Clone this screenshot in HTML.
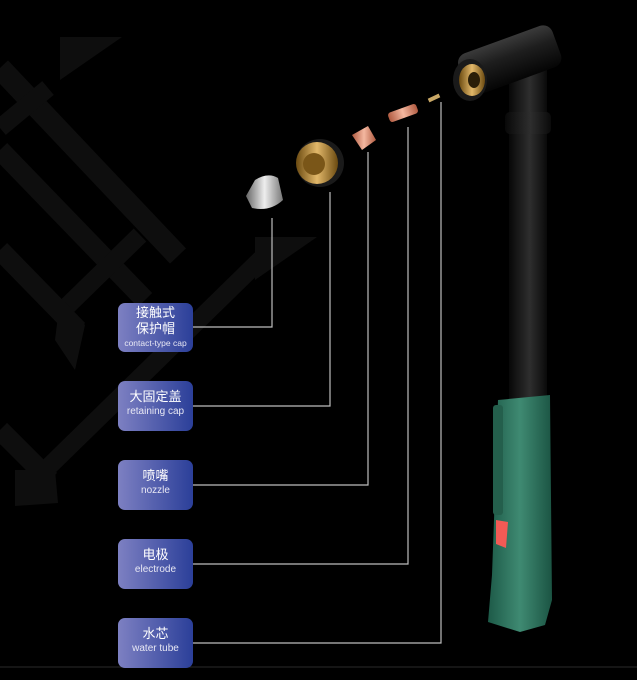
<!DOCTYPE html>
<html><head><meta charset="utf-8"><style>
body{margin:0;background:#000;width:637px;height:680px;overflow:hidden;position:relative;font-family:"Liberation Sans","Noto Sans CJK SC",sans-serif}
svg{position:absolute;left:0;top:0}
.b{position:absolute;left:118px;width:75px;border-radius:7px;background:linear-gradient(90deg,#7d80c2,#2b3f99);color:#fff;text-align:center;box-sizing:border-box}
.b .c{font-size:13px;line-height:16px}
.b .e{font-size:10px;line-height:13px;color:#e8e8f4}
</style></head><body>
<svg width="637" height="680">
<g stroke="#0e0e0e" fill="none">
<line x1="0" y1="68" x2="178" y2="256" stroke-width="22"/>
<line x1="48" y1="88" x2="0" y2="128" stroke-width="18"/>
<line x1="0" y1="150" x2="145" y2="300" stroke-width="20"/>
<line x1="140" y1="235" x2="55" y2="318" stroke-width="18"/>
<line x1="0" y1="250" x2="78" y2="330" stroke-width="20"/>
<line x1="262" y1="258" x2="30" y2="485" stroke-width="18"/>
<line x1="0" y1="430" x2="50" y2="480" stroke-width="20"/>
</g>
<g fill="#0e0e0e">
<polygon points="60,37 122,37 60,80"/>
<polygon points="255,237 317,237 255,280"/>
<polygon points="15,470 55,470 58,503 15,506"/>
<polygon points="60,300 85,325 75,370 55,340"/>
</g>
<g stroke="#bdbdbd" stroke-width="1.2" fill="none">
<polyline points="193,327 272,327 272,218"/>
<polyline points="193,406 330,406 330,192"/>
<polyline points="193,485 368,485 368,152"/>
<polyline points="193,564 408,564 408,127"/>
<polyline points="193,643 441,643 441,102"/>
</g>
<line x1="0" y1="667" x2="637" y2="667" stroke="#2a2a2a" stroke-width="1"/>
<defs>
<linearGradient id="blk" x1="0" x2="1"><stop offset="0" stop-color="#080808"/><stop offset=".55" stop-color="#2e2e2e"/><stop offset="1" stop-color="#0a0a0a"/></linearGradient>
<linearGradient id="hd" x1="0" x2="0" y1="0" y2="1"><stop offset="0" stop-color="#3a3a3a"/><stop offset=".4" stop-color="#1e1e1e"/><stop offset="1" stop-color="#050505"/></linearGradient>
<linearGradient id="grn" x1="0" x2="1"><stop offset="0" stop-color="#1d5a48"/><stop offset=".5" stop-color="#3f8a72"/><stop offset="1" stop-color="#1b5443"/></linearGradient>
<linearGradient id="gold" x1="0" x2="1"><stop offset="0" stop-color="#6b4a10"/><stop offset=".5" stop-color="#e2b86a"/><stop offset="1" stop-color="#6b4a10"/></linearGradient>
<linearGradient id="sil" x1="0" x2="1"><stop offset="0" stop-color="#666"/><stop offset=".5" stop-color="#eee"/><stop offset="1" stop-color="#777"/></linearGradient>
<linearGradient id="cop" x1="0" x2="1"><stop offset="0" stop-color="#b05a40"/><stop offset=".5" stop-color="#f4b8a0"/><stop offset="1" stop-color="#b05a40"/></linearGradient>
</defs>
<rect x="509" y="70" width="38" height="340" fill="url(#blk)"/>
<rect x="505" y="112" width="46" height="22" rx="5" fill="url(#blk)"/>
<g transform="rotate(-20 505 62)">
<rect x="460" y="40" width="100" height="44" rx="10" fill="url(#hd)"/>
</g>
<ellipse cx="470" cy="80" rx="17" ry="21" fill="#1a1a1a"/>
<ellipse cx="472" cy="80" rx="13" ry="16" fill="url(#gold)"/>
<ellipse cx="474" cy="80" rx="6" ry="8" fill="#2a1e08"/>
<path d="M498,400 L550,395 L552,600 L545,625 L520,632 L488,622 L492,575 L494,520 Z" fill="url(#grn)"/>
<rect x="493" y="405" width="10" height="110" rx="3" fill="#245f4c"/>
<polygon points="496,520 508,522 506,548 496,544" fill="#f25a55"/>
<rect x="428" y="96" width="12" height="4" transform="rotate(-25 434 98)" fill="#c9a866"/>
<rect x="388" y="108" width="30" height="10" rx="3" transform="rotate(-20 403 113)" fill="url(#cop)"/>
<path d="M352,135 L368,126 L376,140 L362,150 Z" fill="url(#cop)"/>
<circle cx="320" cy="163" r="24" fill="#1a1a1a"/>
<circle cx="317" cy="163" r="21" fill="url(#gold)"/>
<circle cx="314" cy="164" r="11" fill="#7a5618"/>
<path d="M255,180 Q268,172 278,178 L283,200 Q270,212 252,208 L246,196 Z" fill="url(#sil)"/>
</svg>
<div class="b" style="top:303px;height:49px;padding-top:2px"><div class="c">接触式<br>保护帽</div><div class="e" style="font-size:8.5px">contact-type cap</div></div>
<div class="b" style="top:381px;height:50px;padding-top:8px"><div class="c">大固定盖</div><div class="e">retaining cap</div></div>
<div class="b" style="top:460px;height:50px;padding-top:8px"><div class="c">喷嘴</div><div class="e">nozzle</div></div>
<div class="b" style="top:539px;height:50px;padding-top:8px"><div class="c">电极</div><div class="e">electrode</div></div>
<div class="b" style="top:618px;height:50px;padding-top:8px"><div class="c">水芯</div><div class="e">water tube</div></div>
</body></html>
